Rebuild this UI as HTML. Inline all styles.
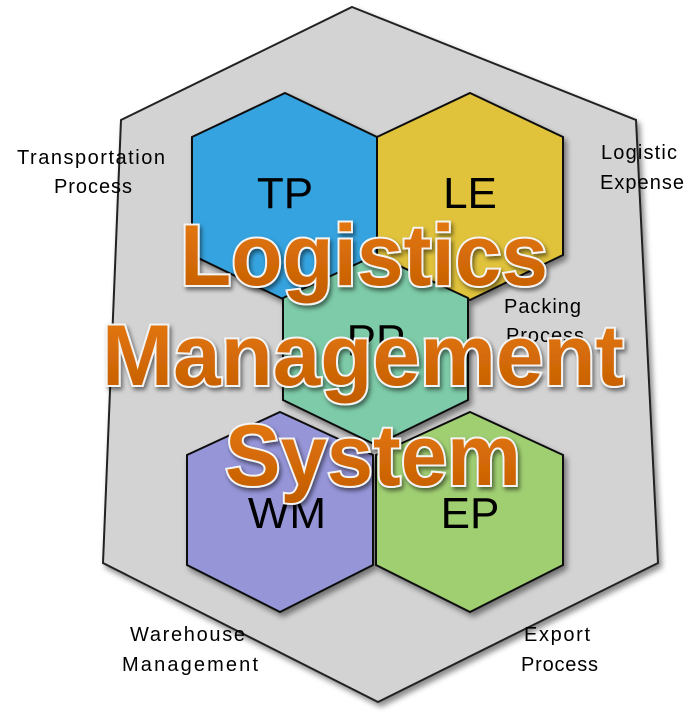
<!DOCTYPE html>
<html><head><meta charset="utf-8"><style>
html,body{margin:0;padding:0;background:#fff;}
</style></head><body>
<svg width="700" height="718" viewBox="0 0 700 718" xmlns="http://www.w3.org/2000/svg">
<defs>
<filter id="sh" x="-10%" y="-10%" width="130%" height="130%"><feDropShadow dx="3" dy="4" stdDeviation="3" flood-color="#000" flood-opacity="0.45"/></filter>
<filter id="ts" x="-5%" y="-5%" width="115%" height="125%"><feDropShadow dx="2" dy="3" stdDeviation="2" flood-color="#000" flood-opacity="0.5"/></filter>
<linearGradient id="og" x1="0" y1="0" x2="0" y2="1"><stop offset="0" stop-color="#E87A10"/><stop offset="1" stop-color="#C25C00"/></linearGradient>
</defs>
<polygon points="352,7 636,120 658,563 378,702 103,563 121,120" fill="#D3D3D3" stroke="#222" stroke-width="2" filter="url(#sh)"/>
<g stroke="#111" stroke-width="2" filter="url(#sh)">
<polygon points="285,93 377,137 377,255 285,300 192,255 192,137" fill="#36A3DF"/>
<polygon points="470,93 563,137 563,255 470,300 377,255 377,137" fill="#E0C23A"/>
<polygon points="376,255 468,298 468,400 376,445 283,400 283,298" fill="#7DCBA8"/>
<polygon points="280,412 373,455 373,565 280,612 187,565 187,455" fill="#9595D8"/>
<polygon points="470,412 563,455 563,565 470,612 376,565 376,455" fill="#A0CF72"/>
</g>
<g font-family="Liberation Sans, sans-serif" font-size="44" fill="#000" text-anchor="middle">
<text x="285" y="208">TP</text>
<text x="470" y="208">LE</text>
<text x="376" y="355">PP</text>
<text x="287" y="528">WM</text>
<text x="470" y="528">EP</text>
</g>
<g font-family="Liberation Sans, sans-serif" font-size="20" fill="#000" lengthAdjust="spacingAndGlyphs">
<text x="17" y="164" textLength="148">Transportation</text>
<text x="54" y="193" textLength="78">Process</text>
<text x="601" y="159" textLength="76">Logistic</text>
<text x="600" y="189" textLength="84">Expense</text>
<text x="504" y="313" textLength="77">Packing</text>
<text x="506" y="342" textLength="78">Process</text>
<text x="130" y="641" textLength="115">Warehouse</text>
<text x="122" y="671" textLength="136">Management</text>
<text x="524" y="641" textLength="66">Export</text>
<text x="521" y="671" textLength="77">Process</text>
</g>
<g font-family="Liberation Sans, sans-serif" font-weight="bold" font-size="86" text-anchor="middle" fill="url(#og)" stroke="#f4f4f4" stroke-width="4" paint-order="stroke" filter="url(#ts)">
<text x="364" y="285" textLength="368" lengthAdjust="spacingAndGlyphs">Logistics</text>
<text x="363" y="385" textLength="522" lengthAdjust="spacingAndGlyphs">Management</text>
<text x="373" y="485" textLength="296" lengthAdjust="spacingAndGlyphs">System</text>
</g>
</svg>
</body></html>
